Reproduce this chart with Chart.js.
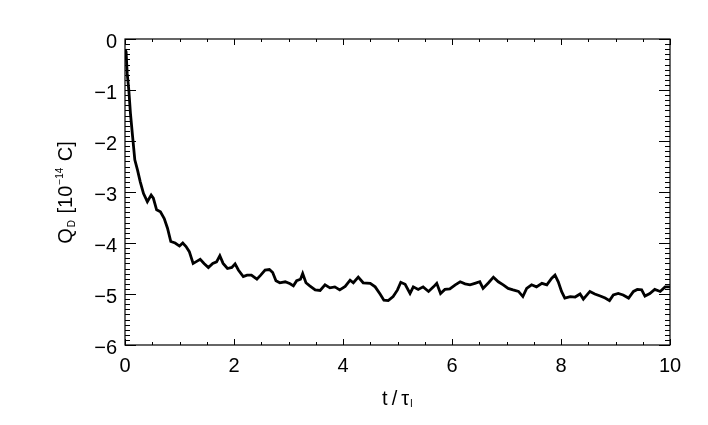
<!DOCTYPE html>
<html>
<head>
<meta charset="utf-8">
<script src="https://cdn.jsdelivr.net/npm/chart.js@4"></script>
<style>
  html, body { margin: 0; padding: 0; background: #fff; }
  #wrap { width: 708px; height: 425px; }
</style>
</head>
<body>
<div id="wrap"><canvas id="grafica" width="708" height="425"></canvas></div>
<script>
// t / tau_I
var tiempos = [0.00, 0.02, 0.04, 0.07, 0.10, 0.14, 0.18, 0.23, 0.28, 0.34, 0.41, 0.48, 0.52, 0.58, 0.65,
  0.72, 0.78, 0.84, 0.92, 1.00, 1.06, 1.12, 1.18, 1.25, 1.30, 1.38, 1.45, 1.53, 1.61, 1.68, 1.74,
  1.80, 1.88, 1.96, 2.02, 2.08, 2.17, 2.24, 2.32, 2.42, 2.49, 2.57, 2.65, 2.71, 2.77, 2.84, 2.94,
  3.03, 3.09, 3.15, 3.22, 3.26, 3.32, 3.39, 3.49, 3.58, 3.67, 3.76, 3.85, 3.94, 4.04, 4.13, 4.19,
  4.28, 4.37, 4.50, 4.59, 4.68, 4.75, 4.83, 4.92, 5.00, 5.06, 5.14, 5.23, 5.29, 5.38, 5.47, 5.57,
  5.66, 5.72, 5.79, 5.87, 5.96, 6.06, 6.15, 6.24, 6.33, 6.42, 6.51, 6.57, 6.67, 6.76, 6.85, 6.94,
  7.03, 7.12, 7.22, 7.30, 7.37, 7.46, 7.55, 7.65, 7.74, 7.83, 7.89, 7.95, 8.01, 8.07, 8.17, 8.26,
  8.35, 8.41, 8.53, 8.62, 8.72, 8.81, 8.89, 8.96, 9.05, 9.14, 9.24, 9.33, 9.40, 9.48, 9.54, 9.63,
  9.72, 9.82, 9.91, 10.00];
// Q_D [10^-14 C]
var cargas = [-0.20, -0.25, -0.67, -1.00, -1.46, -1.92, -2.37, -2.57, -2.80, -3.03, -3.19, -3.06, -3.12, -3.35, -3.39,
  -3.52, -3.71, -3.97, -4.00, -4.06, -4.00, -4.07, -4.17, -4.40, -4.37, -4.32, -4.40, -4.48, -4.40, -4.37, -4.25,
  -4.40, -4.50, -4.48, -4.41, -4.53, -4.66, -4.63, -4.63, -4.71, -4.63, -4.53, -4.52, -4.58, -4.74, -4.78, -4.76,
  -4.80, -4.84, -4.74, -4.71, -4.60, -4.78, -4.84, -4.92, -4.93, -4.82, -4.88, -4.86, -4.92, -4.85, -4.73, -4.78,
  -4.67, -4.78, -4.79, -4.86, -5.00, -5.12, -5.13, -5.05, -4.92, -4.77, -4.81, -4.99, -4.86, -4.91, -4.86, -4.95,
  -4.86, -4.79, -4.99, -4.91, -4.90, -4.82, -4.76, -4.80, -4.82, -4.79, -4.76, -4.89, -4.78, -4.67, -4.76, -4.82,
  -4.89, -4.92, -4.95, -5.05, -4.89, -4.82, -4.86, -4.79, -4.82, -4.69, -4.63, -4.76, -4.95, -5.08, -5.05, -5.06,
  -5.00, -5.10, -4.95, -5.00, -5.04, -5.08, -5.13, -5.02, -4.99, -5.02, -5.08, -4.95, -4.91, -4.92, -5.04, -4.99,
  -4.91, -4.95, -4.86, -4.86];

var ticksX = [0, 2, 4, 6, 8, 10];
var ticksY = [0, -1, -2, -3, -4, -5, -6];

var puntos = tiempos.map(function (t, i) { return { x: t, y: cargas[i] }; });

var fuente = '"Liberation Sans", Arial, Helvetica, sans-serif';

// marco, ticks hacia dentro y titulos de ejes (estilo IDL)
var marcoIDL = {
  id: 'marcoIDL',
  afterDatasetsDraw: function (chart) {
    var ctx = chart.ctx;
    var a = chart.chartArea;
    var sx = chart.scales.x;
    var sy = chart.scales.y;
    ctx.save();
    ctx.strokeStyle = '#000';
    ctx.lineWidth = 1.2;
    ctx.strokeRect(a.left, a.top, a.right - a.left, a.bottom - a.top);

    ctx.lineWidth = 1;
    ctx.beginPath();
    for (var k = 0; k <= 20; k++) {
      var vx = k * 0.5;
      var px = Math.round(sx.getPixelForValue(vx)) + 0.5;
      var lx = (k % 4 === 0) ? 6 : 3;
      ctx.moveTo(px, a.bottom); ctx.lineTo(px, a.bottom - lx);
      ctx.moveTo(px, a.top); ctx.lineTo(px, a.top + lx);
    }
    for (var j = 0; j <= 60; j++) {
      var vy = -j * 0.1;
      var py = Math.round(sy.getPixelForValue(vy)) + 0.5;
      var ly = (j % 10 === 0) ? 11 : 5;
      ctx.moveTo(a.left, py); ctx.lineTo(a.left + ly, py);
      ctx.moveTo(a.right, py); ctx.lineTo(a.right - ly, py);
    }
    ctx.stroke();
    ctx.restore();
  },
  afterDraw: function (chart) {
    var ctx = chart.ctx;
    var a = chart.chartArea;
    ctx.save();
    ctx.fillStyle = '#000';
    ctx.textBaseline = 'alphabetic';

    // titulo eje x: t/τ con subindice I
    var grande = '20px ' + fuente;
    var chica = '10px ' + fuente;
    ctx.font = grande;
    var base = 't\u2009/\u2009\u03C4';
    var w1 = ctx.measureText(base).width;
    ctx.font = chica;
    var w2 = ctx.measureText('I').width;
    var cx = (a.left + a.right) / 2;
    var x0 = cx - (w1 + w2 + 1) / 2;
    ctx.font = grande;
    ctx.fillText(base, x0, 405);
    ctx.font = chica;
    ctx.fillText('I', x0 + w1 + 1, 407);

    // titulo eje y: Q_D [10^-14 C]
    var partes = [
      { t: 'Q', f: grande, dy: 0 },
      { t: 'D', f: chica, dy: 3 },
      { t: ' [10', f: grande, dy: 0 },
      { t: '\u221214', f: chica, dy: -9 },
      { t: ' C]', f: grande, dy: 0 }
    ];
    var total = 0;
    partes.forEach(function (p) {
      ctx.font = p.f;
      p.w = ctx.measureText(p.t).width;
      total += p.w + 1;
    });
    ctx.translate(72, (a.top + a.bottom) / 2);
    ctx.rotate(-Math.PI / 2);
    var xx = -total / 2;
    partes.forEach(function (p) {
      ctx.font = p.f;
      ctx.fillText(p.t, xx, p.dy);
      xx += p.w + 1;
    });
    ctx.restore();
  }
};

var ctxQ = document.getElementById('grafica').getContext('2d');
var grafica = new Chart(ctxQ, {
  type: 'line',
  data: {
    datasets: [{
      label: 'Q_D',
      data: puntos,
      borderColor: '#000',
      borderWidth: 2.8,
      pointRadius: 0,
      tension: 0,
      fill: false
    }]
  },
  options: {
    responsive: false,
    animation: false,
    layout: { padding: { left: 0, right: 38, top: 39, bottom: 0 } },
    plugins: {
      legend: { display: false },
      tooltip: { enabled: false }
    },
    scales: {
      x: {
        type: 'linear',
        min: 0,
        max: 10,
        grid: { display: false, drawTicks: false },
        border: { display: false },
        afterFit: function (s) { s.height = 80; },
        afterBuildTicks: function (s) { s.ticks = ticksX.map(function (v) { return { value: v }; }); },
        ticks: {
          color: '#000',
          padding: 9,
          maxRotation: 0,
          font: { size: 20, family: fuente }
        }
      },
      y: {
        type: 'linear',
        min: -6,
        max: 0,
        grid: { display: false, drawTicks: false },
        border: { display: false },
        afterFit: function (s) { s.width = 125; },
        afterBuildTicks: function (s) { s.ticks = ticksY.map(function (v) { return { value: v }; }); },
        ticks: {
          color: '#000',
          padding: 8,
          labelOffset: 3,
          font: { size: 20, family: fuente },
          callback: function (v) { return v < 0 ? '\u2212' + Math.abs(v) : String(v); }
        }
      }
    }
  },
  plugins: [marcoIDL]
});
</script>
</body>
</html>
